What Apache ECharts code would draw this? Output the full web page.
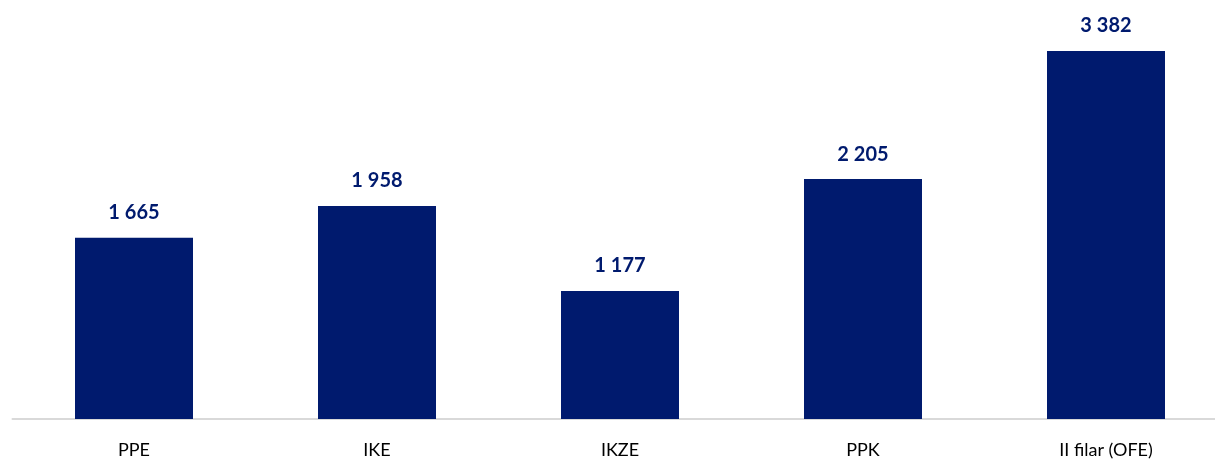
<!DOCTYPE html>
<html>
<head>
<meta charset="utf-8">
<script src="https://cdn.jsdelivr.net/npm/echarts@6/dist/echarts.min.js"></script>
<style>
html, body { margin: 0; padding: 0; background: #fff; }
#chart { width: 1215px; height: 461px; }
</style>
</head>
<body>
<div id="chart"></div>
<script>
const categories = ['PPE', 'IKE', 'IKZE', 'PPK', 'II filar (OFE)'];
const values = [1665, 1958, 1177, 2205, 3382];

const fmt = v => String(v).replace(/\B(?=(\d{3})+(?!\d))/g, ' ');

let myChart = echarts.init(document.getElementById('chart'));
let option = {
    backgroundColor: '#fff',
    animation: false,
    grid: {
        left: 12.5,
        right: -12.5,
        top: 51,
        bottom: 42,
        outerBoundsMode: 'none',
        containLabel: false
    },
    xAxis: {
        type: 'category',
        data: categories,
        axisLine: { lineStyle: { color: '#d9d9d9', width: 2 } },
        axisTick: { show: false },
        axisLabel: {
            color: '#000',
            fontFamily: 'Lato',
            fontSize: 18,
            margin: 22
        }
    },
    yAxis: {
        type: 'value',
        min: 0,
        max: 3382,
        show: false
    },
    series: [{
        type: 'bar',
        data: values,
        barWidth: 118,
        itemStyle: { color: '#001A6E' },
        label: {
            show: true,
            position: 'top',
            distance: 15,
            color: '#001A6E',
            fontFamily: 'Lato',
            fontWeight: 'bold',
            fontSize: 20,
            formatter: p => fmt(p.value)
        }
    }]
};
myChart.setOption(option);
</script>
</body>
</html>
